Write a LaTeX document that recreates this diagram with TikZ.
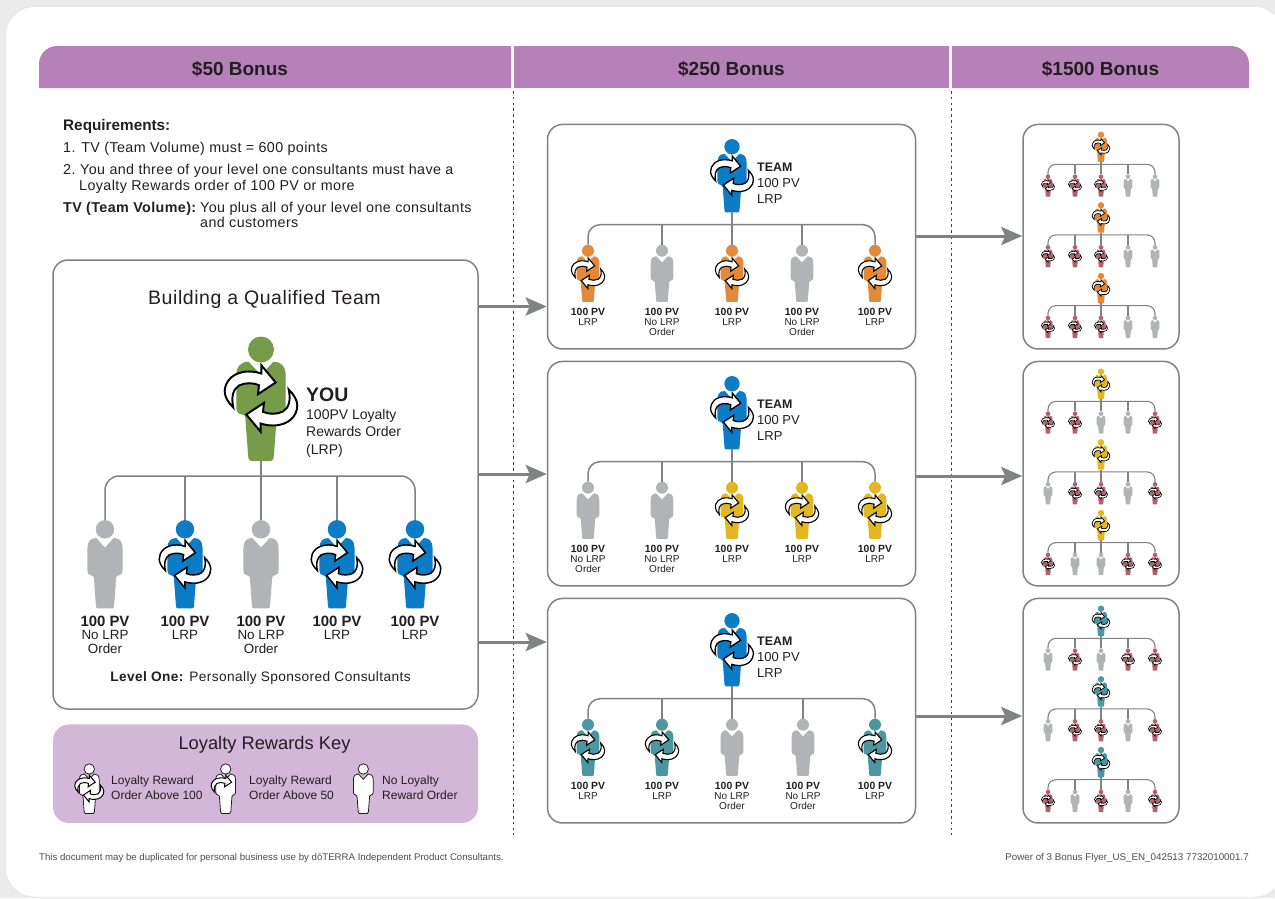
\documentclass[tikz,border=0pt]{standalone}
\usepackage{fontspec}
\setmainfont{Liberation Sans}
\newfontfamily\wide[LetterSpace=2.8]{Liberation Sans}
\usetikzlibrary{arrows.meta}
\definecolor{cHdr}{HTML}{B680B8}
\definecolor{cKey}{HTML}{D3B7D8}
\definecolor{cLine}{HTML}{808285}
\definecolor{cTxt}{HTML}{231F20}
\definecolor{cGreen}{HTML}{769C4A}
\definecolor{cBlue}{HTML}{0B7CC5}
\definecolor{cGrey}{HTML}{B1B3B6}
\definecolor{cOrange}{HTML}{E2893A}
\definecolor{cYellow}{HTML}{E2B71F}
\definecolor{cTeal}{HTML}{4A97A0}
\definecolor{cPink}{HTML}{B5606F}
\definecolor{cBg}{HTML}{ECECEC}
\tikzset{
  pGn/.style={fill=cGreen}, pBl/.style={fill=cBlue}, pGr/.style={fill=cGrey},
  pOr/.style={fill=cOrange}, pYe/.style={fill=cYellow}, pTe/.style={fill=cTeal},
  pPk/.style={fill=cPink}, pKy/.style={fill=white,draw=cTxt,line width=.8pt},
  swirlarrow/.style={fill=white,draw=black,line join=miter},
  conn/.style={draw=cLine,line cap=butt},
  panel/.style={draw=cLine,line width=1.5pt,rounded corners=15pt,inner sep=0pt,fill=white},
  keypanel/.style={fill=cKey,rounded corners=16pt,inner sep=0pt},
  hdr/.style={fill=cHdr},
  txt/.style={inner sep=0pt,text=cTxt},
  bigarrow/.style={draw=cLine,line width=3pt,-{Stealth[length=21pt,width=18pt,inset=4pt]}},
  dashline/.style={draw=cTxt!85,line width=.9pt,dash pattern=on 2.6pt off 3.2pt}
}
\newcounter{txc}
% anchor, x, y(visual centre), size, text
\newcommand\tx[5]{\stepcounter{txc}\pgfmathsetmacro\by{#3+0.35*#4}%
  \node[txt,anchor=#1] (t\thetxc) at (#2,\by) {\fontsize{#4}{#4}\selectfont #5};}
\newcommand\swirlpath{(-27.7,9) .. controls (-33,4) and (-36.3,-2) .. (-36.3,-7)
  .. controls (-36.3,-17) and (-28,-27) .. (-12,-27)
  .. controls (-7,-27) and (-3,-26) .. (0.3,-25) -- (0.3,-33.3) -- (14.7,-16) -- (-3,-4.3) -- (-2,-13.3)
  .. controls (-8,-16) and (-16,-16) .. (-22,-13)
  .. controls (-28,-9) and (-30,-2) .. (-27.7,9) -- cycle}
% name, x, y (head centre), scale, style, swirl mode
\newcommand\person[6]{%
  \pgfmathsetmacro\swl{0.35+1.6*#4}%
  \begin{scope}[shift={(#2,#3)},x=#4pt,y=-#4pt]
    \coordinate (#1) at (0,-13);
    \coordinate (#1-b) at (0,111.3);
    \path[#5] (0,0) circle[radius=13];
    \path[#5] (0,25.7) -- (12.3,12.3) .. controls (20,12) and (24.7,17) .. (24.7,26)
      -- (24.7,58) .. controls (24.7,62) and (23,64.5) .. (19,65) .. controls (17,65.3) and (15.9,66) .. (15.7,68)
      -- (12.8,107) .. controls (12.6,110) and (12,111.3) .. (10,111.3)
      -- (-10,111.3) .. controls (-12,111.3) and (-12.6,110) .. (-12.8,107)
      -- (-15.7,68) .. controls (-15.9,66) and (-17,65.3) .. (-19,65) .. controls (-23,64.5) and (-24.7,62) .. (-24.7,58)
      -- (-24.7,26) .. controls (-24.7,17) and (-20,12) .. (-12.3,12.3) -- cycle;
    \ifnum#6>0 \begin{scope}[shift={(0,49)}]\path[swirlarrow,line width=\swl pt] \swirlpath;\end{scope}\fi
    \ifnum#6>1 \begin{scope}[shift={(0,49)},rotate=180]\path[swirlarrow,line width=\swl pt] \swirlpath;\end{scope}\fi
  \end{scope}}
% prefix, px, py, ps, pstyle, busy, childy, cs, list x/style/mode
\newcommand\tree[9]{%
  \person{#1p}{#2}{#3}{#4}{#5}{2}
  \coordinate (#1bus) at (#2,#6);
  \foreach \cx/\st/\md [count=\ci] in {#9}{\person{#1c\ci}{\cx}{#7}{#8}{\st}{\md}}
  \draw[conn,line width=\connW pt,rounded corners=\busR pt] (#1c1) |- (#1bus) -| (#1c5);
  \draw[conn,line width=\connW pt] (#1p-b) -- (#1bus);
  \foreach \ci in {2,3,4}{\draw[conn,line width=\connW pt] (#1c\ci) -- (#1c\ci |- #1bus);}
}
% name, y offset, child list
\newcommand\midtree[3]{%
  \pgfmathsetmacro\mh{146.7+#2}\pgfmathsetmacro\mb{224.7+#2}\pgfmathsetmacro\mc{250.7+#2}%
  \tree{#1}{732}{\mh}{.59}{pBl}{\mb}{\mc}{.46}{#3}
  \pgfmathsetmacro\tya{167+#2}\pgfmathsetmacro\tyb{183+#2}\pgfmathsetmacro\tyc{199+#2}%
  \tx{base west}{757}{\tya}{12.4}{\textbf{TEAM}}
  \tx{base west}{757}{\tyb}{13}{100 PV}
  \tx{base west}{757}{\tyc}{13}{LRP}
  \foreach \cx/\st/\md in {#3}{%
    \pgfmathsetmacro\lya{311.7+#2}\pgfmathsetmacro\lyb{322+#2}\pgfmathsetmacro\lyc{332.3+#2}%
    \tx{base}{\cx}{\lya}{10.4}{\textbf{100 PV}}
    \ifnum\md=0
      \tx{base}{\cx}{\lyb}{10}{No LRP}
      \tx{base}{\cx}{\lyc}{10}{Order}
    \else
      \tx{base}{\cx}{\lyb}{10}{LRP}
    \fi}
}
% name, head y, style, five child style/mode
\newcommand\smalltree[8]{%
  \pgfmathsetmacro\sb{#2+29.6}\pgfmathsetmacro\sc{#2+42}%
  \tree{#1}{1101}{#2}{.245}{#3}{\sb}{\sc}{.18}{1048/#4,1075/#5,1101/#6,1128/#7,1155/#8}
}
\begin{document}
\begin{tikzpicture}[x=1pt,y=-1pt]
\useasboundingbox (0,0) rectangle (1275,898);
% page
\fill[cBg] (0,0) rectangle (1275,898);
\draw[draw=black!9,line width=1.5pt,fill=white,rounded corners=30pt] (5,6) rectangle (1284,897.5);
% headers
\fill[hdr] (39,88) [rounded corners=18pt] -- (39,46) [sharp corners] -- (511,46) -- (511,88) -- cycle;
\fill[hdr] (514,46) rectangle (949,88);
\fill[hdr] (952,88) -- (952,46) [rounded corners=18pt] -- (1249,46) [sharp corners] -- (1249,88) -- cycle;
\tx{base}{240}{69}{19}{\textbf{\$50 Bonus}}
\tx{base}{731.5}{69}{19}{\textbf{\$250 Bonus}}
\tx{base}{1100.5}{69}{19}{\textbf{\$1500 Bonus}}
% dashed dividers
\coordinate (da) at (513,91); \coordinate (db) at (513,835);
\coordinate (dc) at (951,91); \coordinate (dd) at (951,835);
\draw[dashline] (da) -- (db);
\draw[dashline] (dc) -- (dd);
% requirements
\tx{base west}{63}{125}{15.3}{\textbf{Requirements:}}
\tx{base west}{63}{147}{14.3}{\wide 1. TV (Team Volume) must = 600 points}
\tx{base west}{63}{169.5}{14.3}{\wide 2.}
\tx{base west}{80}{169.5}{14.3}{\wide You and three of your level one consultants must have a}
\tx{base west}{79}{185}{14.3}{\wide Loyalty Rewards order of 100 PV or more}
\tx{base west}{63}{207}{14.3}{\wide\textbf{TV (Team Volume):}}
\tx{base west}{200}{207}{14.3}{\wide You plus all of your level one consultants}
\tx{base west}{200}{222}{14.3}{\wide and customers}
% panels
\node[panel,minimum width=425pt,minimum height=449pt] (qual) at (265.5,484.5) {};
\node[keypanel,minimum width=425pt,minimum height=98.5pt] (keyp) at (265.5,773.7) {};
\node[panel,minimum width=368pt,minimum height=224.5pt] (m1) at (731.5,236.7) {};
\node[panel,minimum width=368pt,minimum height=224.5pt] (m2) at (731.5,473.7) {};
\node[panel,minimum width=368pt,minimum height=224.5pt] (m3) at (731.5,710.7) {};
\node[panel,minimum width=156pt,minimum height=224.5pt] (r1) at (1101,236.7) {};
\node[panel,minimum width=156pt,minimum height=224.5pt] (r2) at (1101,473.7) {};
\node[panel,minimum width=156pt,minimum height=224.5pt] (r3) at (1101,710.7) {};
% arrows
\coordinate (ya) at (0,306.5); \coordinate (yb) at (0,474); \coordinate (yc) at (0,642);
\coordinate (yd) at (0,236); \coordinate (ye) at (0,476); \coordinate (yf) at (0,716);
\draw[bigarrow] (qual.east |- ya) -- (m1.west |- ya);
\draw[bigarrow] (qual.east |- yb) -- (m2.west |- yb);
\draw[bigarrow] (qual.east |- yc) -- (m3.west |- yc);
\draw[bigarrow] (m1.east |- yd) -- (r1.west |- yd);
\draw[bigarrow] (m2.east |- ye) -- (r2.west |- ye);
\draw[bigarrow] (m3.east |- yf) -- (r3.west |- yf);
% qualified team
\tx{base}{264.5}{298}{19.5}{\wide Building a Qualified Team}
\def\connW{1.5}\def\busR{14}
\tree{q}{261}{349.5}{1}{pGn}{476}{529.3}{.71}{105/pGr/0,185/pBl/2,261/pGr/0,337/pBl/2,415/pBl/2}
\tx{base west}{306}{395}{19.5}{\textbf{YOU}}
\tx{base west}{306}{415}{14}{100PV Loyalty}
\tx{base west}{306}{432}{14}{Rewards Order}
\tx{base west}{306}{450}{14}{(LRP)}
\foreach \cx/\k in {105/0,185/1,261/0,337/1,415/1}{%
  \tx{base}{\cx}{621}{14.9}{\textbf{100 PV}}
  \ifnum\k=0
    \tx{base}{\cx}{635}{13.4}{No LRP}
    \tx{base}{\cx}{649}{13.4}{Order}
  \else
    \tx{base}{\cx}{635}{13.4}{LRP}
  \fi}
\tx{base}{260.5}{677}{13.7}{\wide\textbf{Level One:} Personally Sponsored Consultants}
% key
\tx{base}{264.5}{743}{18.3}{Loyalty Rewards Key}
\person{k1}{89.3}{769}{.40}{pKy}{2}
\person{k2}{225.7}{769}{.40}{pKy}{1}
\person{k3}{363.3}{769}{.40}{pKy}{0}
\tx{base west}{111}{780}{12}{Loyalty Reward}
\tx{base west}{111}{795}{12}{Order Above 100}
\tx{base west}{249}{780}{12}{Loyalty Reward}
\tx{base west}{249}{795}{12}{Order Above 50}
\tx{base west}{382}{780}{12}{No Loyalty}
\tx{base west}{382}{795}{12}{Reward Order}
% middle column
\def\connW{1.5}\def\busR{12}
\midtree{a}{0}{588/pOr/2,662/pGr/0,732/pOr/2,802/pGr/0,875/pOr/2}
\midtree{b}{237}{588/pGr/0,662/pGr/0,732/pYe/2,802/pYe/2,875/pYe/2}
\midtree{c}{474}{588/pTe/2,662/pTe/2,732/pGr/0,803/pGr/0,875/pTe/2}
% right column
\def\connW{1.1}\def\busR{8}
\smalltree{ra}{134.7}{pOr}{pPk/2}{pPk/2}{pPk/2}{pGr/0}{pGr/0}
\smalltree{rb}{205.3}{pOr}{pPk/2}{pPk/2}{pPk/2}{pGr/0}{pGr/0}
\smalltree{rc}{276}{pOr}{pPk/2}{pPk/2}{pPk/2}{pGr/0}{pGr/0}
\smalltree{rd}{371.7}{pYe}{pPk/2}{pPk/2}{pGr/0}{pGr/0}{pPk/2}
\smalltree{re}{442.3}{pYe}{pGr/0}{pPk/2}{pPk/2}{pGr/0}{pPk/2}
\smalltree{rf}{513}{pYe}{pPk/2}{pGr/0}{pGr/0}{pPk/2}{pPk/2}
\smalltree{rg}{608.7}{pTe}{pGr/0}{pPk/2}{pGr/0}{pPk/2}{pPk/2}
\smalltree{rh}{679.3}{pTe}{pGr/0}{pPk/2}{pPk/2}{pGr/0}{pPk/2}
\smalltree{ri}{750}{pTe}{pPk/2}{pGr/0}{pPk/2}{pGr/0}{pPk/2}
% footer
\tx{base west}{39}{857}{9.65}{\textcolor{cTxt!80}{This document may be duplicated for personal business use by dōTERRA Independent Product Consultants.}}
\tx{base east}{1249}{857}{9.8}{\textcolor{cTxt!80}{Power of 3 Bonus Flyer\_US\_EN\_042513 7732010001.7}}
\end{tikzpicture}
\end{document}
